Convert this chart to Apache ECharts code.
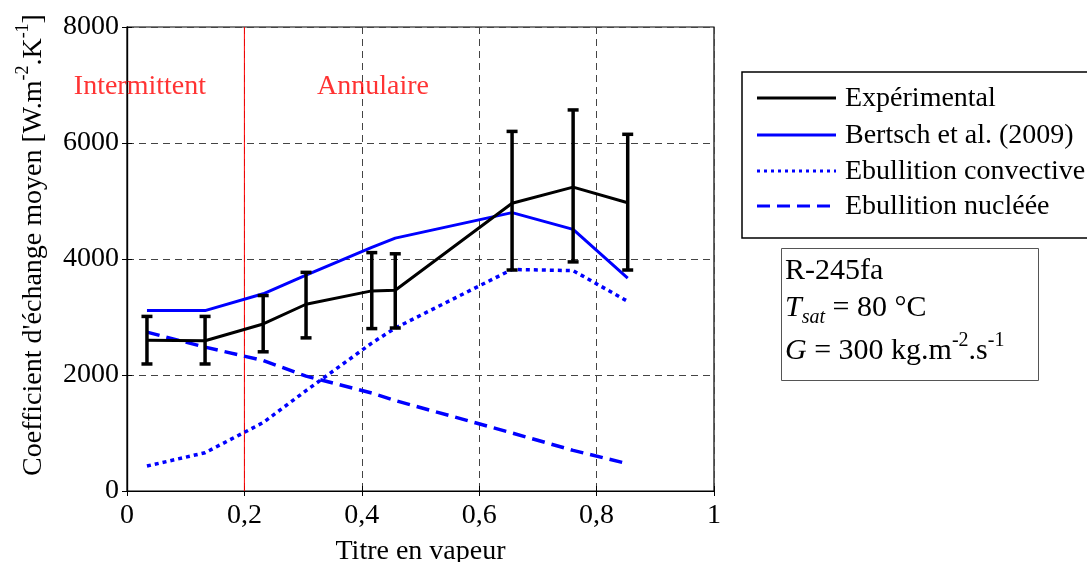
<!DOCTYPE html>
<html>
<head>
<meta charset="utf-8">
<script src="https://cdn.jsdelivr.net/npm/echarts@6/dist/echarts.min.js"></script>
<style>html,body{margin:0;padding:0;background:#fff}#c{width:1087px;height:562px}</style>
</head>
<body>
<div id="c"></div>
<script>
// ---- data ----
const titre = [0.034, 0.133, 0.232, 0.305, 0.417, 0.457, 0.656, 0.760, 0.853];
const experimental = [2600, 2590, 2880, 3220, 3450, 3460, 4960, 5240, 4970];
const expLow = [2190, 2190, 2400, 2640, 2800, 2810, 3810, 3950, 3810];
const expHigh = [3010, 3010, 3370, 3770, 4110, 4090, 6200, 6570, 6150];
const bertsch = [3110, 3110, 3400, 3720, 4200, 4360, 4800, 4510, 3670];
const convective = [430, 660, 1180, 1730, 2550, 2810, 3820, 3800, 3270];
const nucleee = [2740, 2480, 2250, 1980, 1690, 1560, 1000, 700, 470];
const xTicks = [0, 0.2, 0.4, 0.6, 0.8, 1];
const regimeLabels = [["Intermittent", 0.022, 6980], ["Annulaire", 0.419, 6980]];
const transitionX = 0.2;
const legendNames = ["Expérimental", "Bertsch et al. (2009)", "Ebullition convective", "Ebullition nucléée"];

const F = "'Liberation Serif', 'Times New Roman', serif";
const FS = 28;
const pts = a => titre.map((x, i) => [x, a[i]]);
const errData = titre.map((x, i) => [x, expLow[i], expHigh[i]]);

const chart = echarts.init(document.getElementById('c'));
const axisLine = {show: true, lineStyle: {color: '#000', width: 1.2}};
const split = {show: true, lineStyle: {color: '#444', type: [7, 5], width: 1}};
const tick = {show: true, inside: true, length: 5, lineStyle: {color: '#000'}};

const legendStyles = [
  {color: '#000', type: 'solid'},
  {color: '#0000ff', type: 'solid'},
  {color: '#0000ff', type: [3, 4]},
  {color: '#0000ff', type: [13, 7]}
];
const legendY = [98, 135, 171, 206];
const graphics = [
  {type: 'rect', shape: {x: 742, y: 72, width: 400, height: 166}, style: {fill: '#fff', stroke: '#000', lineWidth: 1.5}, z: 10},
  {type: 'rect', shape: {x: 781.5, y: 248.5, width: 257, height: 132}, style: {fill: '#fff', stroke: '#555', lineWidth: 1}, z: 10},
  {type: 'text', x: 785, y: 271, style: {text: 'R-245fa', font: '30px ' + F, fill: '#000', textVerticalAlign: 'middle'}, z: 11},
  {type: 'text', x: 785, y: 308, style: {
    text: '{i|T}{sub|sat}{n| = 80 °C}', textVerticalAlign: 'middle',
    rich: {
      i: {fontFamily: F, fontSize: 30, fontStyle: 'italic', fill: '#000', lineHeight: 40, verticalAlign: 'middle'},
      sub: {fontFamily: F, fontSize: 20, fontStyle: 'italic', fill: '#000', lineHeight: 40, verticalAlign: 'bottom'},
      n: {fontFamily: F, fontSize: 30, fill: '#000', lineHeight: 40, verticalAlign: 'middle'}
    }}, z: 11},
  {type: 'text', x: 785, y: 351, style: {
    text: '{i|G}{n| = 300 kg.m}{sup|-2}{n|.s}{sup|-1}', textVerticalAlign: 'middle',
    rich: {
      i: {fontFamily: F, fontSize: 30, fontStyle: 'italic', fill: '#000', lineHeight: 40, verticalAlign: 'middle'},
      sup: {fontFamily: F, fontSize: 20, fill: '#000', lineHeight: 40, verticalAlign: 'top'},
      n: {fontFamily: F, fontSize: 30, fill: '#000', lineHeight: 40, verticalAlign: 'middle'}
    }}, z: 11}
];
legendNames.forEach((n, i) => {
  graphics.push({type: 'line', shape: {x1: 757, y1: legendY[i], x2: 836, y2: legendY[i]},
    style: {stroke: legendStyles[i].color, lineWidth: 3, lineDash: legendStyles[i].type === 'solid' ? null : legendStyles[i].type}, z: 11});
  graphics.push({type: 'text', x: 845, y: legendY[i] + 1, style: {text: n, font: FS + 'px ' + F, fill: '#000', textVerticalAlign: 'middle'}, z: 11});
});

chart.setOption({
  animation: false,
  backgroundColor: '#fff',
  grid: {left: 127, top: 27, width: 587, height: 464, show: true, borderColor: '#000', borderWidth: 1.2,
    backgroundColor: 'transparent', containLabel: false, outerBoundsMode: 'none'},
  xAxis: [{
    type: 'value', min: 0, max: 1, interval: 0.2,
    axisLine: axisLine, axisTick: tick, splitLine: split,
    axisLabel: {color: '#000', fontFamily: F, fontSize: FS, margin: 11,
      formatter: v => (v === 0 || v === 1) ? String(v) : v.toFixed(1).replace('.', ',')},
    name: 'Titre en vapeur', nameLocation: 'middle', nameGap: 47,
    nameTextStyle: {color: '#000', fontFamily: F, fontSize: FS}
  }, {
    type: 'value', position: 'top', min: 0, max: 1, interval: 0.2,
    axisLine: axisLine, axisTick: tick, splitLine: {show: false}, axisLabel: {show: false}
  }],
  yAxis: [{
    type: 'value', min: 0, max: 8000, interval: 2000,
    axisLine: axisLine, axisTick: tick, splitLine: split,
    axisLabel: {color: '#000', fontFamily: F, fontSize: FS, margin: 8, formatter: v => String(v)},
    name: "{a|Coefficient d'échange moyen [W.m}{s|-2}{a|.K}{s|-1}{a|]}",
    nameLocation: 'middle', nameGap: 79, nameRotate: 90,
    nameTextStyle: {color: '#000', padding: [0, 0, 0, 28], rich: {
      a: {fontFamily: F, fontSize: FS, color: '#000', lineHeight: 34, verticalAlign: 'bottom'},
      s: {fontFamily: F, fontSize: 18, color: '#000', lineHeight: 34, verticalAlign: 'top'}
    }}
  }, {
    type: 'value', position: 'right', min: 0, max: 8000, interval: 2000,
    axisLine: axisLine, axisTick: tick, splitLine: {show: false}, axisLabel: {show: false}
  }],
  graphic: graphics,
  series: [
    {type: 'line', data: [[transitionX, 0], [transitionX, 8000]], symbol: 'none', silent: true,
      lineStyle: {color: '#ff0000', width: 1}, z: 2},
    {type: 'scatter', data: regimeLabels.map(r => [r[1], r[2], r[0]]), symbolSize: 0, silent: true,
      label: {show: true, position: 'inside', formatter: p => p.data[2], color: '#ff0000', fontFamily: F, fontSize: FS}},
    {name: legendNames[2], type: 'line', data: pts(convective), symbol: 'none',
      lineStyle: {color: '#0000ff', width: 3.5, type: [4, 4], cap: 'butt'}, z: 3},
    {name: legendNames[3], type: 'line', data: pts(nucleee), symbol: 'none',
      lineStyle: {color: '#0000ff', width: 3.5, type: [13, 7]}, z: 3},
    {name: legendNames[1], type: 'line', data: pts(bertsch), symbol: 'none',
      lineStyle: {color: '#0000ff', width: 3}, z: 4},
    {name: legendNames[0], type: 'line', data: pts(experimental), symbol: 'none',
      lineStyle: {color: '#000', width: 3}, z: 5},
    {type: 'custom', data: errData, z: 6,
      renderItem: (params, api) => {
        const x = api.value(0);
        const lo = api.coord([x, api.value(1)]);
        const hi = api.coord([x, api.value(2)]);
        const w = 5.5;
        const st = {stroke: '#000', lineWidth: 3.5};
        return {type: 'group', children: [
          {type: 'line', shape: {x1: lo[0], y1: lo[1], x2: hi[0], y2: hi[1]}, style: st},
          {type: 'line', shape: {x1: lo[0] - w, y1: lo[1], x2: lo[0] + w, y2: lo[1]}, style: st},
          {type: 'line', shape: {x1: hi[0] - w, y1: hi[1], x2: hi[0] + w, y2: hi[1]}, style: st}
        ]};
      }}
  ]
});
</script>
</body>
</html>
